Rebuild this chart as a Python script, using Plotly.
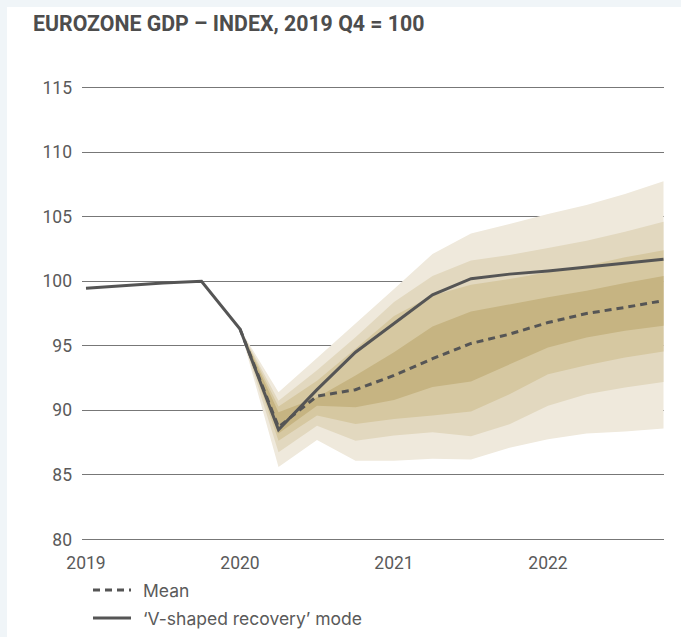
import plotly.graph_objects as go

# ---------------- data ----------------
quarters = ["2019 Q1", "2019 Q2", "2019 Q3", "2019 Q4",
            "2020 Q1", "2020 Q2", "2020 Q3", "2020 Q4",
            "2021 Q1", "2021 Q2", "2021 Q3", "2021 Q4",
            "2022 Q1", "2022 Q2", "2022 Q3", "2022 Q4"]
year_ticks = ["2019", "2020", "2021", "2022"]
year_tick_quarters = ["2019 Q1", "2020 Q1", "2021 Q1", "2022 Q1"]

v_shaped_mode = [99.46, 99.66, 99.86, 100.0, 96.3, 88.5, 91.6, 94.5,
                 96.7, 98.95, 100.2, 100.55, 100.8, 101.1, 101.4, 101.7]

# forecast part starts at 2020 Q1
fan_quarters = quarters[4:]
mean_values = [96.3, 88.7, 91.1, 91.6, 92.7, 94.0, 95.18, 95.9, 96.8, 97.5, 97.97, 98.5]

outer_top  = [96.3, 91.4, 94.06, 96.7, 99.4, 102.1, 103.7, 104.43, 105.2, 105.9, 106.76, 107.74]
second_top = [96.3, 90.75, 93.1, 95.66, 98.4, 100.4, 101.6, 102.03, 102.57, 103.14, 103.84, 104.6]
third_top  = [96.3, 90.3, 92.3, 94.76, 97.3, 98.9, 99.73, 100.17, 100.7, 101.2, 101.85, 102.4]
dark_top   = [96.3, 89.85, 91.0, 92.7, 94.5, 96.5, 97.66, 98.23, 98.75, 99.26, 99.86, 100.4]
dark_bot   = [96.3, 88.2, 90.36, 90.23, 90.8, 91.8, 92.24, 93.58, 94.87, 95.65, 96.16, 96.55]
third_bot  = [96.3, 87.65, 89.6, 88.95, 89.33, 89.6, 89.9, 91.25, 92.8, 93.5, 94.1, 94.56]
second_bot = [96.3, 86.75, 88.8, 87.65, 88.04, 88.3, 88.0, 88.93, 90.35, 91.25, 91.77, 92.2]
outer_bot  = [96.3, 85.6, 87.7, 86.1, 86.1, 86.25, 86.2, 87.1, 87.76, 88.2, 88.36, 88.6]

y_ticks = [80, 85, 90, 95, 100, 105, 110, 115]

legend_names = ["Mean", "\u2018V-shaped recovery\u2019 mode"]

# ---------------- styling ----------------
band_colors = ["#efe9dc", "#e2d8bf", "#d6c8a1", "#c6b482"]
line_color = "#555555"
text_color = "#5a5a5a"
grid_color = "#777777"
TICK_FONT = "Roboto, Arial, sans-serif"
LEGEND_FONT = "Inter, Roboto, Arial, sans-serif"
TITLE_FONT = "Roboto, Arial, sans-serif"
DASH = "7px,5px"

W, H = 681, 637
L, R, T, B = 82, 17, 85, 95
plot_w = W - L - R
plot_h = H - T - B


def px_x(x):  # page pixel -> paper x
    return (x - L) / plot_w


def px_y(y):  # page pixel -> paper y
    return (H - B - y) / plot_h


qi = {q: i for i, q in enumerate(quarters)}
x_all = [qi[q] for q in quarters]
x_fan = [qi[q] for q in fan_quarters]

fig = go.Figure()

bands = [(outer_top, outer_bot), (second_top, second_bot),
         (third_top, third_bot), (dark_top, dark_bot)]
for (top, bot), col in zip(bands, band_colors):
    fig.add_trace(go.Scatter(
        x=x_fan + x_fan[::-1], y=top + bot[::-1],
        fill="toself", fillcolor=col, mode="lines",
        line=dict(width=0, color=col), showlegend=False, hoverinfo="skip"))

fig.add_trace(go.Scatter(
    x=x_fan, y=mean_values, mode="lines", name=legend_names[0],
    line=dict(color=line_color, width=3, dash=DASH), showlegend=False))
fig.add_trace(go.Scatter(
    x=x_all, y=v_shaped_mode, mode="lines", name=legend_names[1],
    line=dict(color=line_color, width=3), showlegend=False))

x0_px, dx_px = 86.0, 38.5
x_range = [(L - x0_px) / dx_px, (W - R - x0_px) / dx_px]

# background panel + manual legend keys
shapes = [dict(type="rect", xref="paper", yref="paper", layer="below",
               x0=px_x(7), x1=px_x(W + 10), y0=px_y(H + 10), y1=px_y(7),
               fillcolor="white", line=dict(width=0))]
legend_rows_y = [590, 618]
annotations = []
for name, ry, dash in zip(legend_names, legend_rows_y, [DASH, "solid"]):
    shapes.append(dict(type="line", xref="paper", yref="paper",
                       x0=px_x(93), x1=px_x(131), y0=px_y(ry), y1=px_y(ry),
                       line=dict(color=line_color, width=3, dash=dash)))
    annotations.append(dict(text=name, xref="paper", yref="paper",
                            x=px_x(141), y=px_y(ry), xanchor="left", yanchor="middle",
                            showarrow=False,
                            font=dict(family=LEGEND_FONT, size=17.5, color=text_color)))

fig.update_layout(
    width=W, height=H,
    margin=dict(l=L, r=R, t=T, b=B, pad=0),
    paper_bgcolor="#f0f5f8",
    plot_bgcolor="rgba(0,0,0,0)",
    font=dict(family=TICK_FONT, size=17.5, color=text_color),
    title=dict(text="<b>EUROZONE GDP \u2013 INDEX, 2019 Q4 = 100</b>",
               x=33 / W, xref="container", xanchor="left",
               y=1 - 24 / H, yref="container", yanchor="middle",
               font=dict(family=TITLE_FONT, size=21.3, color="#4d4d4d")),
    showlegend=False,
    shapes=shapes,
    annotations=annotations,
)

fig.update_xaxes(range=x_range, tickmode="array",
                 tickvals=[qi[q] for q in year_tick_quarters], ticktext=year_ticks,
                 showgrid=False, zeroline=False, showline=False, ticks="",
                 ticklabelstandoff=8,
                 tickfont=dict(family=TICK_FONT, size=17.5, color=text_color))
fig.update_yaxes(range=[79.8, 115.2], tickmode="array", tickvals=y_ticks,
                 showgrid=True, gridcolor=grid_color, gridwidth=1,
                 zeroline=False, showline=False, ticks="",
                 ticklabelstandoff=9,
                 tickfont=dict(family=TICK_FONT, size=17.5, color=text_color))

fig.write_html("out.html",
               config={"displayModeBar": False},
               post_script="document.body.style.margin='0';"
                           "document.body.style.background='#f0f5f8';")
